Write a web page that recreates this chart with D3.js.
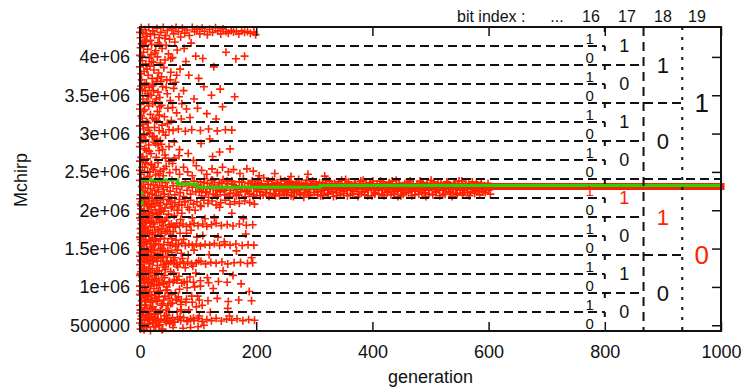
<!DOCTYPE html>
<html>
<head>
<meta charset="utf-8">
<script src="https://cdn.jsdelivr.net/npm/d3@7"></script>
<style>
  body { margin: 0; background: #fff; }
  text { font-family: "Liberation Sans", Arial, Helvetica, sans-serif; }
</style>
</head>
<body>
<svg id="chart" width="742" height="390"></svg>
<script>
// ---------------- data ----------------
// axis ticks
const genTicks = [0, 200, 400, 600, 800, 1000];
const genTickLabels = ["0", "200", "400", "600", "800", "1000"];
const mchirpTicks = [500000, 1000000, 1500000, 2000000, 2500000, 3000000, 3500000, 4000000];
const mchirpTickLabels = ["500000", "1e+06", "1.5e+06", "2e+06", "2.5e+06", "3e+06", "3.5e+06", "4e+06"];

// encoded Mchirp range (covers the 16 intervals set by bits 16..19)
const mchirpRange = [425000, 4390000];

// bit columns: index shown in the header, generation where each column ends
const bitIndices = [16, 17, 18, 19];
const bitColumnEnds = [800, 866.67, 933.33, 1000];
// bits 16..19 of the best individual (interval 0111)
const bestBits = [1, 1, 1, 0];

// population, [generation, Mchirp / 1000]
// wide search, upper half of the range
const earlyUpper = [
  [2,4380],[5,4310],[9,4355],[12,4270],[15,4385],[18,4215],[22,4340],[25,4290],[29,4370],[33,4250],
  [36,4320],[40,4385],[44,4280],[47,4345],[51,4230],[55,4365],[58,4300],[62,4385],[66,4330],[70,4260],
  [73,4375],[77,4310],[81,4350],[85,4280],[90,4385],[94,4330],[98,4360],[103,4300],[107,4375],[111,4335],
  [116,4290],[120,4360],[125,4320],[130,4380],[134,4340],[139,4300],[143,4365],[148,4330],[152,4310],[157,4345],
  [161,4325],[166,4335],[170,4300],[175,4340],[180,4320],[185,4330],[190,4310],[196,4325],[199,4290],[3,4170],
  [8,4200],[20,4160],[31,4185],[45,4150],[60,4195],[88,4180],
  [1,4120],[4,3950],[6,4060],[10,3910],[13,4100],[16,3990],[19,4030],[23,3930],[27,4080],[30,4000],
  [35,3920],[38,4110],[43,3960],[49,4040],[56,3990],[64,4090],[79,3940],[96,4010],[148,4060],[165,3975],[180,4010],
  [0,3870],[3,3700],[7,3810],[11,3660],[14,3760],[17,3880],[21,3720],[24,3830],[28,3680],[32,3790],
  [37,3740],[41,3860],[46,3700],[53,3800],[61,3670],[69,3840],[84,3760],[101,3720],[127,3870],
  [2,3620],[5,3450],[9,3560],[12,3420],[16,3600],[19,3500],[23,3640],[26,3410],[31,3540],[34,3470],
  [39,3610],[47,3520],[52,3430],[58,3590],[67,3480],[75,3560],[93,3450],[110,3610],[123,3500],[163,3480],
  [1,3380],[4,3200],[8,3310],[11,3160],[15,3360],[18,3250],[22,3390],[26,3180],[30,3290],[34,3350],
  [42,3220],[48,3330],[54,3170],[63,3270],[72,3390],[86,3210],[99,3330],[115,3260],[131,3190],[142,3350],
  [0,3100],[3,2950],[6,3060],[10,2920],[13,3140],[17,3010],[21,2960],[25,3080],[29,2930],[33,3040],
  [38,3110],[44,2980],[50,3050],[57,3040],[66,3060],[78,3030],[89,3050],[104,3040],[118,3060],[133,3035],
  [147,3050],[158,3045],[35,2910],
  [1,2880],[5,2700],[8,2800],[12,2670],[15,2850],[19,2740],[24,2890],[28,2690],[33,2780],[37,2860],
  [43,2720],[50,2830],[59,2680],[68,2790],[83,2740],[105,2870],[125,2700],[137,2760],
  [0,2640],[2,2470],[4,2560],[7,2420],[10,2610],[13,2500],[16,2440],[20,2590],[23,2530],[27,2460],
  [31,2620],[35,2510],[40,2450],[45,2570],[51,2490],[56,2610],[62,2530],[68,2470],[75,2560],[82,2500],
  [90,2450],[97,2580],[106,2520],[115,2470],[124,2540],[133,2490],[142,2560],[152,2500],[161,2530],[172,2480],
  [184,2540],[195,2510],
  [1,4250],[3,4010],[4,3560],[6,3290],[7,2980],[9,2620],[10,4200],[12,3840],[13,3520],[14,3080],
  [16,2770],[17,2500],[18,4300],[20,3940],[21,3620],[22,3200],[24,2960],[25,2560],[26,4050],[28,3450],
  [29,3170],[31,2850],[32,2480],[34,4160],[36,3680],[37,3370],[39,2790],[41,2540],[43,4240],[45,3600],
  [47,3130],[50,2640],[53,3980],[56,3340],[59,2890],[63,3760],[67,2710],[71,3190],[76,4110],[0,4320],
  [0,4020],[0,3580],[0,3320],[0,2830],[0,2520],[2,3780],[2,3230],[2,2690],[5,4180],[5,3120],
  [8,3630],[8,2560],[11,4300],[11,2780],[15,3490],[15,3040],[19,2600],[23,3560],[27,2870],[30,3720],
  [33,3240],[40,3020],[44,2680],[52,3700],[80,3320],[92,2650],[108,3980],[120,2930],[138,3580],[155,2800]
];
// wide search, interval around the optimum
const earlyMiddle = [
  [0,2390],[1,2200],[3,2310],[5,2250],[6,2370],[8,2180],[9,2290],[11,2400],[13,2230],[14,2340],
  [16,2170],[18,2280],[19,2390],[21,2210],[23,2330],[25,2260],[27,2370],[28,2190],[30,2300],[32,2240],
  [34,2380],[36,2170],[38,2320],[40,2270],[42,2210],[44,2360],[47,2300],[49,2180],[52,2250],[55,2390],
  [57,2320],[60,2200],[63,2280],[66,2350],[69,2230],[72,2310],[75,2180],[78,2370],[81,2260],[84,2330],
  [87,2210],[90,2300],[93,2380],[96,2240],[99,2320]
];
// wide search, lower half of the range
const earlyLower = [
  [0,2150],[1,1950],[2,2060],[4,1920],[5,2110],[7,2000],[9,2140],[10,1940],[12,2070],[14,1980],
  [15,2120],[17,1930],[19,2040],[21,2150],[22,1960],[24,2090],[26,2010],[28,2130],[30,1920],[33,2060],
  [35,2100],[37,1990],[40,2140],[43,2030],[46,2080],[49,1950],[52,2120],[56,2050],[60,2100],[64,2000],
  [68,2140],[72,2070],[77,2110],[82,2040],[87,2130],[92,2080],[98,2110],[104,2060],[110,2130],[117,2090],
  [124,2120],[131,2070],[139,2100],[147,2130],[155,2080],[163,2110],[171,2090],[180,2120],[189,2100],[197,2080],
  [0,1900],[2,1700],[3,1820],[5,1680],[6,1880],[8,1760],[10,1670],[11,1850],[13,1730],[15,1900],
  [17,1690],[18,1790],[20,1860],[22,1710],[24,1820],[26,1680],[29,1900],[31,1750],[34,1840],[37,1700],
  [40,1800],[43,1870],[47,1740],[50,1810],[54,1820],[58,1790],[63,1830],[68,1800],[74,1820],[80,1790],
  [86,1810],[93,1830],[100,1800],[108,1820],[115,1790],[123,1810],[131,1830],[140,1800],[150,1815],[160,1795],
  [171,1820],[183,1805],[194,1810],
  [0,1650],[1,1450],[3,1580],[4,1430],[6,1620],[7,1500],[9,1660],[11,1470],[12,1560],[14,1420],
  [16,1610],[18,1520],[20,1450],[21,1640],[23,1540],[25,1480],[27,1600],[30,1440],[32,1560],[35,1630],
  [38,1500],[41,1550],[44,1460],[48,1580],[52,1540],[56,1560],[61,1530],[66,1550],[72,1570],[78,1540],
  [84,1560],[90,1545],[97,1560],[104,1535],[112,1555],[120,1545],[128,1565],[137,1540],[146,1555],[155,1545],
  [165,1560],[176,1540],[186,1550],[196,1545],
  [0,1400],[2,1200],[3,1330],[5,1180],[6,1380],[8,1260],[10,1410],[11,1220],[13,1350],[15,1190],
  [17,1300],[19,1390],[21,1240],[23,1330],[25,1180],[28,1370],[30,1280],[33,1210],[36,1340],[39,1400],
  [42,1260],[45,1320],[49,1300],[53,1330],[58,1310],[63,1290],[69,1320],[75,1305],[82,1325],[89,1300],
  [97,1315],[105,1330],[113,1300],[122,1320],[131,1310],[141,1325],[151,1300],[162,1315],[173,1320],[185,1305],
  [194,1315],
  [0,1150],[1,950],[3,1080],[4,930],[6,1120],[8,1010],[9,1160],[11,960],[13,1060],[15,1130],
  [17,940],[19,1040],[21,1100],[24,980],[26,1150],[29,1020],[32,1090],[35,950],[38,1060],[42,1120],
  [46,1000],[51,1070],[57,1060],[64,1090],[72,1050],[81,1070],[92,1060],[104,1080],[118,1055],[135,1070],[150,1060],
  [0,900],[2,700],[3,820],[5,690],[7,880],[8,760],[10,910],[12,720],[14,840],[16,680],
  [18,800],[20,890],[22,740],[25,850],[27,700],[30,810],[33,870],[37,760],[41,830],[45,700],
  [50,850],[56,790],[63,830],[71,810],[80,840],[90,800],[102,830],[117,820],[133,850],[152,810],[170,830],[192,820],
  [0,660],[1,450],[2,580],[4,500],[5,640],[7,440],[8,560],[10,620],[11,470],[13,590],
  [15,520],[16,650],[18,430],[20,610],[22,540],[24,480],[26,600],[28,560],[31,660],[33,500],
  [36,580],[39,450],[42,620],[45,540],[48,590],[52,560],[56,600],[60,540],[65,580],[70,560],
  [75,600],[81,550],[87,580],[93,560],[100,590],[107,550],[115,575],[123,560],[131,590],[140,555],
  [149,580],[158,565],[167,585],[177,560],[187,575],[197,565],
  [2,2020],[6,1780],[9,1590],[12,1400],[15,1230],[18,1010],[21,820],[24,640],[27,480],[30,2100],
  [33,1880],[36,1660],[39,1470],[42,1150],[45,960],[48,760],[51,520],[54,2030],[57,1720],[60,1380],
  [63,1090],[66,870],[69,610],[72,1960],[75,1620],[78,1250],[81,990],[84,700],[87,470],[90,1900],
  [93,1480],[96,1180],[99,880],[102,620],[105,2050],[108,1670],[3,1540],[7,1320],[11,1100],[14,880],
  [17,590],[20,2080],[23,1840],[26,1560],[29,1210],[32,940],[35,690],[38,440],[41,1990],[44,1720],
  [47,1390],[50,1060],[53,780],[56,540],[59,1930],[62,1610],[65,1260],[68,970],[71,700],[74,460],
  [77,2110],[80,1700],[83,1420],[86,1130],[89,880],[92,590],[95,2000],[98,1650],[101,1340],[104,1010],
  [107,760],[110,500],[1,1760],[4,1240],[8,990],[10,760],[13,510],[16,2050],[19,1600],[22,1350],
  [25,1080],[28,820],[31,560],[34,1970],[37,1760],[40,1290],[43,880],[46,630],[49,2140],[52,1690],
  [55,1450],[58,1180],[61,920],[64,680],[67,2070],[70,1880],[73,1370],[76,1060],[79,800],[82,560],
  [85,2010],[88,1740],[91,1270],[94,1000],[97,740],[100,480],[0,1290],[0,1010],[0,760],[0,530],
  [1,2080],[1,1620],[1,1170],[1,700],[2,1870],[2,1350],[2,900],[3,2110],[3,1440],[3,620],
  [4,1760],[4,1130],[5,1960],[5,1480],[5,890],[6,1240],[6,470],[7,1710],[7,1050],[8,2090],
  [8,1390],[9,810],[9,1840],[10,1210],[11,1570],[11,640],[12,1910],[12,870],[13,1460],[14,1740],
  [14,1060],[15,580],[16,1330],[17,1830],[18,1180],[19,720],[20,1490],[21,1960],[22,1070],[23,570],
  [24,1410],[25,1780],[26,900],[27,1620],[28,1110],[29,1950],[30,650],[31,1380],[32,1730],[33,1030],
  [34,510],[35,1500],[36,2000],[37,1170],[38,1850],[39,780],[40,1380],[41,1040],[42,1630],[43,560],
  [44,1230],[46,1900],[47,960],[48,1470],[50,680],[51,1780],[53,1200],[54,900],[55,1630],[57,470],
  [58,1350],[59,1090],[61,1780],[62,840],[64,1480],[65,2000],[67,1140],[69,1700],[70,770],[71,1440],
  [112,1890],[119,1420],[126,980],[134,1650],[143,1210],[151,720],[158,1960],[166,1470],[174,1040],[182,1690],
  [188,940],[121,670],[137,2040],[145,1590],[160,1150],[178,1890],[192,1380],[116,1120],[128,1900],[154,620]
];
// later generations, population concentrated in interval 0111
const lateBand = [
  [102,2250],[104,2370],[106,2190],[109,2300],[111,2410],[113,2230],[116,2350],[118,2170],[121,2280],[123,2390],
  [126,2210],[128,2330],[131,2260],[133,2180],[136,2360],[138,2240],[141,2310],[143,2400],[146,2200],[148,2290],
  [151,2350],[153,2180],[156,2260],[158,2380],[161,2220],[163,2320],[166,2190],[168,2270],[171,2370],[173,2240],
  [176,2300],[178,2410],[181,2180],[183,2260],[186,2350],[188,2220],[191,2290],[193,2380],[196,2200],[198,2320],
  [201,2250],[204,2360],[207,2190],[210,2280],[213,2420],[216,2230],[219,2340],[222,2180],[225,2300],[228,2390],
  [231,2210],[234,2270],[237,2350],[240,2190],[243,2310],[246,2240],[249,2380],[252,2200],[255,2290],[258,2360],
  [261,2230],[264,2180],[267,2330],[270,2260],[273,2400],[276,2210],[279,2300],[282,2170],[285,2350],[288,2250],
  [291,2190],[294,2320],[297,2380],[300,2230],[303,2280],[306,2200],[309,2360],[312,2250],[315,2190],[318,2310],
  [321,2390],[324,2220],[327,2270],[330,2340],[333,2180],[336,2290],[339,2230],[342,2370],[345,2200],[348,2300],
  [351,2250],[354,2400],[357,2190],[360,2330],[363,2260],[366,2210],[369,2350],[372,2280],[375,2180],[378,2320],
  [381,2240],[384,2390],[387,2200],[390,2300],[393,2260],[396,2360],[399,2190],[402,2280],[405,2230],[408,2340],
  [411,2210],[414,2380],[417,2270],[420,2190],[423,2310],[426,2250],[429,2360],[432,2200],[435,2290],[438,2240],
  [441,2390],[444,2180],[447,2320],[450,2260],[453,2210],[456,2350],[459,2280],[462,2230],[465,2380],[468,2190],
  [471,2300],[474,2250],[477,2340],[480,2210],[483,2290],[486,2360],[489,2230],[492,2180],[495,2310],[498,2260],
  [501,2390],[504,2200],[507,2280],[510,2240],[513,2350],[516,2190],[519,2320],[522,2260],[525,2210],[528,2370],
  [531,2290],[534,2230],[537,2180],[540,2340],[543,2270],[546,2220],[549,2380],[552,2300],[555,2200],[558,2260],
  [561,2350],[564,2230],[567,2190],[570,2310],[573,2280],[576,2220],[579,2360],[582,2250],[585,2200],[588,2330],
  [591,2270],[594,2230],[597,2300],[600,2260],[603,2210],
  [205,2450],[232,2480],[260,2440],[289,2470],[318,2445],
  [100,2330],[105,2280],[110,2360],[115,2240],[120,2310],[125,2390],[130,2200],[135,2300],[140,2350],[145,2260],
  [150,2380],[155,2220],[160,2340],[165,2290],[170,2200],[175,2370],[180,2310],[185,2250],[190,2350],[195,2180],
  [200,2300],[203,2390],[206,2240],[209,2340],[212,2200],[215,2310],[218,2270],[221,2380],[224,2220],[227,2330],
  [230,2290],[233,2190],[236,2360],[239,2250],[242,2400],[245,2300],[248,2210],[251,2340],[254,2260],[257,2380],
  [260,2190],[263,2310],[266,2240],[269,2370],[272,2280],[275,2200],[278,2350],[281,2320],[284,2230],[287,2390],
  [290,2270],[293,2200],[296,2330],[299,2290],[302,2370],[305,2240],[308,2310],[311,2190],[314,2360],[317,2260],
  [320,2330],[323,2210],[326,2380],[329,2290],[332,2240],[335,2350],[338,2190],[341,2300],[344,2260],[347,2390],
  [350,2220],[353,2320],[356,2280],[359,2370],[362,2200],[365,2310],[368,2250],[371,2340],[374,2290],[377,2210],
  [380,2380],[383,2300],[386,2240],[389,2350],[392,2190],[395,2320],[398,2270],[401,2380],[404,2210],[407,2300],
  [410,2260],[413,2340],[416,2200],[419,2370],[422,2290],[425,2230],[428,2320],[431,2270],[434,2380],[437,2210],
  [440,2300],[443,2250],[446,2350],[449,2190],[452,2320],[455,2280],[458,2230],[461,2370],[464,2300],[467,2250],
  [470,2340],[473,2200],[476,2310],[479,2270],[482,2380],[485,2230],[488,2300],[491,2260],[494,2350],[497,2210],
  [500,2320],[503,2280],[506,2370],[509,2230],[512,2300],[515,2260],[518,2350],[521,2200],[524,2320],[527,2280],
  [530,2360],[533,2240],[536,2310],[539,2270],[542,2350],[545,2200],[548,2320],[551,2260],[554,2380],[557,2230],
  [560,2300],[563,2280],[566,2340],[569,2240],[572,2370],[575,2300],[578,2260],[581,2330],[584,2280],[587,2350],
  [590,2240],[593,2320],[596,2280],[599,2350],[602,2300]
];
// converged population
const converged = [[200,2310],[400,2310],[600,2310],[800,2310],[1000,2310]];
// best individual per generation (values at each change)
const bestEarly = [[0,2225],[1,2094]];
const bestStep = [[0,2394],[65,2342],[98,2299],[310,2323],[1000,2323]];

// ---------------- layout ----------------
const svg = d3.select("#chart");
const plot = { left: 140, right: 721, top: 27, bottom: 331 };
const RED = "#ff2200", GREEN = "#22d400", INK = "#111";
const FONT = '"Liberation Sans", Arial, Helvetica, sans-serif';

const x = d3.scaleLinear().domain([0, 1000]).range([plot.left, plot.right]);
const y = d3.scaleLinear().domain(mchirpRange).range([plot.bottom, plot.top]);
const yk = v => y(v * 1000);

// ---------------- population markers ----------------
const cross = "M-4,0H4M0,-4V4";
const popG = svg.append("g")
  .attr("fill", "none").attr("stroke", RED).attr("stroke-width", 1.6);
popG.selectAll("path")
  .data([...earlyUpper, ...earlyMiddle, ...earlyLower, ...lateBand])
  .join("path")
  .attr("d", cross)
  .attr("transform", d => `translate(${x(d[0])},${yk(d[1])})`);

// converged population forms a solid strip (square cap = half a marker past the last generation)
svg.append("path")
  .datum(converged)
  .attr("fill", "none").attr("stroke", RED).attr("stroke-width", 7)
  .attr("stroke-linecap", "square")
  .attr("d", d3.line().x(d => x(d[0])).y(d => yk(d[1])));

// best individual
svg.append("path")
  .datum(bestStep)
  .attr("fill", "none").attr("stroke", GREEN).attr("stroke-width", 3)
  .attr("d", d3.line().curve(d3.curveStepAfter).x(d => x(d[0])).y(d => yk(d[1])));
svg.append("g").selectAll("rect")
  .data(bestEarly)
  .join("rect")
  .attr("fill", GREEN)
  .attr("x", d => x(d[0]) - 1).attr("y", d => yk(d[1]) - 2)
  .attr("width", 4).attr("height", 4);

// ---------------- bit interval boundaries ----------------
const nIntervals = 1 << bitIndices.length;
const step = (mchirpRange[1] - mchirpRange[0]) / nIntervals;
const boundaries = d3.range(1, nIntervals).map(k => {
  let level = 0;
  while (((k >> level) & 1) === 0) level++;
  return { k, value: mchirpRange[0] + k * step, level };
});
const hDash = ["9,5", "9,5", "9,5", "9,5"];
const vDash = ["5,14", "9,6", "3,7"];

const gridG = svg.append("g").attr("stroke", INK).attr("stroke-width", 2).attr("fill", "none");
gridG.selectAll("line.h")
  .data(boundaries)
  .join("line").attr("class", "h")
  .attr("x1", x(0)).attr("x2", d => x(bitColumnEnds[d.level]))
  .attr("y1", d => y(d.value)).attr("y2", d => y(d.value))
  .attr("stroke-dasharray", d => hDash[d.level]);
gridG.selectAll("line.v")
  .data(bitColumnEnds.slice(0, 3))
  .join("line").attr("class", "v")
  .attr("x1", d => x(d)).attr("x2", d => x(d))
  .attr("y1", plot.top).attr("y2", plot.bottom)
  .attr("stroke-dasharray", (d, i) => vDash[i]);

// ---------------- bit value labels ----------------
const bestInterval = bestBits.reduce((s, b, i) => s + (b << i), 0);
const labelG = svg.append("g").attr("font-family", FONT);
bitIndices.forEach((bit, b) => {
  const size = 1 << b;
  const groups = d3.range(nIntervals / size).map(g => ({
    g,
    lo: mchirpRange[0] + g * size * step,
    hi: mchirpRange[0] + (g + 1) * size * step,
    bitValue: g & 1,
    isBest: g === (bestInterval >> b)
  }));
  const fontSize = [15, 18, 22, 26][b];
  const colStart = b === 0 ? 0 : bitColumnEnds[b - 1];
  labelG.selectAll(null)
    .data(groups)
    .join("text")
    .attr("font-size", fontSize)
    .attr("fill", d => d.isBest ? RED : INK)
    .attr("text-anchor", b === 0 ? "end" : "middle")
    .attr("x", b === 0 ? x(bitColumnEnds[0]) - 11 : x((colStart + bitColumnEnds[b]) / 2))
    .attr("y", d => b === 0 ? y(d.lo) - 2 : (y(d.lo) + y(d.hi)) / 2 + fontSize * 0.36)
    .text(d => d.bitValue);
});

// header: bit index
const header = svg.append("g").attr("font-family", FONT).attr("font-size", 16).attr("fill", INK);
header.append("text").attr("x", 457).attr("y", 22).text("bit index :");
header.append("text").attr("x", 557).attr("y", 22).attr("text-anchor", "middle").text("...");
header.selectAll("text.idx")
  .data(bitIndices)
  .join("text").attr("class", "idx")
  .attr("text-anchor", "middle")
  .attr("x", (d, i) => [591, 627, 663, 697][i])
  .attr("y", 22)
  .text(d => d);

// ---------------- axes ----------------
function styleAxis(g) {
  g.select(".domain").remove();
  g.selectAll(".tick line").attr("stroke", INK).attr("stroke-width", 1.5);
  g.selectAll("text").attr("fill", INK);
  g.attr("font-family", FONT).attr("font-size", 18);
}
svg.append("g")
  .attr("transform", `translate(0,${plot.bottom})`)
  .call(d3.axisBottom(x).tickValues(genTicks).tickFormat((d, i) => genTickLabels[i])
    .tickSizeInner(-9).tickSizeOuter(0).tickPadding(14))
  .call(styleAxis);
svg.append("g")
  .attr("transform", `translate(0,${plot.top})`)
  .call(d3.axisTop(x).tickValues(genTicks).tickFormat("").tickSizeInner(-9).tickSizeOuter(0))
  .call(styleAxis);
svg.append("g")
  .attr("transform", `translate(${plot.left},0)`)
  .call(d3.axisLeft(y).tickValues(mchirpTicks).tickFormat((d, i) => mchirpTickLabels[i])
    .tickSizeInner(-9).tickSizeOuter(0).tickPadding(10))
  .call(styleAxis);
svg.append("g")
  .attr("transform", `translate(${plot.right},0)`)
  .call(d3.axisRight(y).tickValues(mchirpTicks).tickFormat("").tickSizeInner(-9).tickSizeOuter(0))
  .call(styleAxis);

// frame
svg.append("rect")
  .attr("x", plot.left).attr("y", plot.top)
  .attr("width", plot.right - plot.left).attr("height", plot.bottom - plot.top)
  .attr("fill", "none").attr("stroke", INK).attr("stroke-width", 2);

// axis titles
svg.append("text")
  .attr("font-family", FONT).attr("font-size", 18).attr("fill", INK)
  .attr("text-anchor", "middle")
  .attr("x", (plot.left + plot.right) / 2).attr("y", 383)
  .text("generation");
svg.append("text")
  .attr("font-family", FONT).attr("font-size", 18).attr("fill", INK)
  .attr("text-anchor", "middle")
  .attr("transform", "translate(27,180) rotate(-90)")
  .text("Mchirp");
</script>
</body>
</html>
